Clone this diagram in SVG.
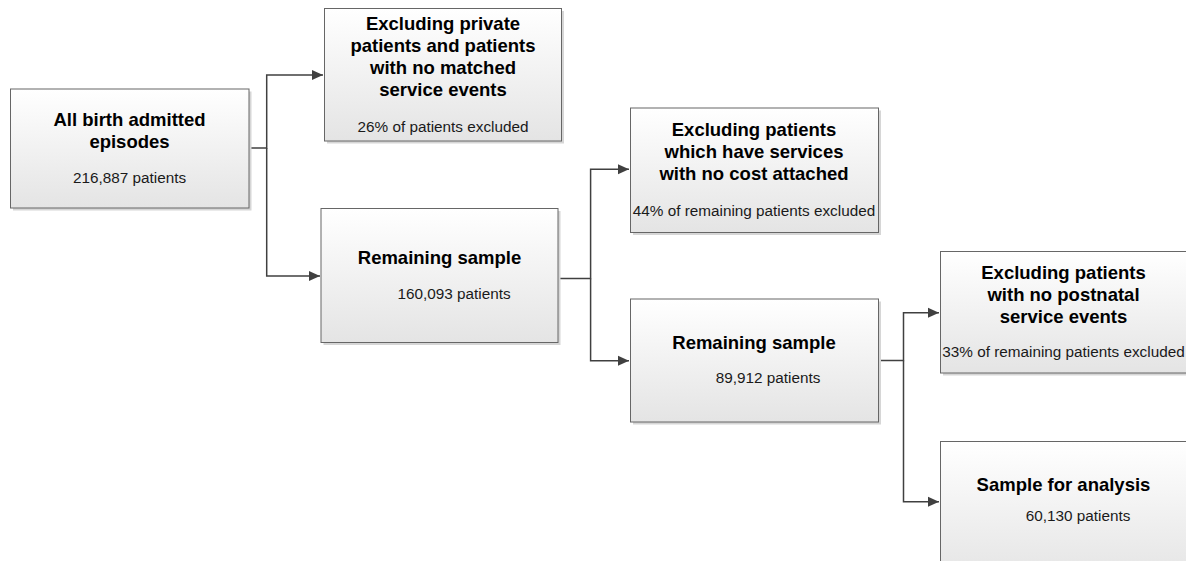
<svg xmlns="http://www.w3.org/2000/svg" width="1186" height="561" viewBox="0 0 1186 561">
<style>
.box{fill:url(#g);stroke:#666;stroke-width:1}
.sh{fill:#d6d6d6}
.t{font-family:"Liberation Sans",Arial,sans-serif;font-weight:bold;font-size:18.5px;fill:#000;text-anchor:middle}
.s{font-family:"Liberation Sans",Arial,sans-serif;font-size:15.3px;fill:#1a1a1a;text-anchor:middle}
.c{fill:none;stroke:#404040;stroke-width:1.5}
</style>
<defs>
<linearGradient id="g" x1="0" y1="0" x2="0" y2="1">
<stop offset="0" stop-color="#ffffff"/>
<stop offset="1" stop-color="#e4e4e4"/>
</linearGradient>
<marker id="a" markerUnits="userSpaceOnUse" markerWidth="12" markerHeight="12" viewBox="0 0 12 12" refX="11" refY="6" orient="auto">
<path d="M0,1 L11,6 L0,11 Z" fill="#404040"/>
</marker>
</defs>
<rect width="1186" height="561" fill="#fff"/>
<g id="connectors">
<path class="c" d="M249,148 H266.7 V75 H323" marker-end="url(#a)"/>
<path class="c" d="M266.7,148 V276 H320" marker-end="url(#a)"/>
<path class="c" d="M558,278.5 H590.6 V169.3 H629" marker-end="url(#a)"/>
<path class="c" d="M590.6,278.5 V360.7 H629" marker-end="url(#a)"/>
<path class="c" d="M878.6,360.5 H903.5 V312.7 H939" marker-end="url(#a)"/>
<path class="c" d="M903.5,360.5 V501.7 H939" marker-end="url(#a)"/>
</g>
<g id="n1">
<rect class="sh" x="13" y="91.5" width="238.5" height="119"/>
<rect class="box" x="10.5" y="89" width="238.5" height="119"/>
<text class="t" x="129.5" y="126">All birth admitted</text>
<text class="t" x="129.5" y="148">episodes</text>
<text class="s" x="129.5" y="183">216,887 patients</text>
</g>
<g id="n2">
<rect class="sh" x="327" y="11" width="237" height="132.5"/>
<rect class="box" x="324.5" y="8.5" width="237" height="132.5"/>
<text class="t" x="443" y="30">Excluding private</text>
<text class="t" x="443" y="52">patients and patients</text>
<text class="t" x="443" y="74">with no matched</text>
<text class="t" x="443" y="96">service events</text>
<text class="s" x="443" y="131.5">26% of patients excluded</text>
</g>
<g id="n3">
<rect class="sh" x="323.5" y="211" width="237" height="134"/>
<rect class="box" x="321" y="208.5" width="237" height="134"/>
<text class="t" x="439.5" y="264">Remaining sample</text>
<text class="s" x="454" y="299">160,093 patients</text>
</g>
<g id="n4">
<rect class="sh" x="633" y="110.5" width="248" height="124.5"/>
<rect class="box" x="630.5" y="108" width="248" height="124.5"/>
<text class="t" x="754" y="136">Excluding patients</text>
<text class="t" x="754" y="158">which have services</text>
<text class="t" x="754" y="180">with no cost attached</text>
<text class="s" x="754" y="216">44% of remaining patients excluded</text>
</g>
<g id="n5">
<rect class="sh" x="633" y="301.5" width="248" height="123"/>
<rect class="box" x="630.5" y="299" width="248" height="123"/>
<text class="t" x="754" y="349">Remaining sample</text>
<text class="s" x="768" y="383">89,912 patients</text>
</g>
<g id="n6">
<rect class="sh" x="943" y="254" width="260" height="121.5"/>
<rect class="box" x="940.5" y="251.5" width="260" height="121.5"/>
<text class="t" x="1063.5" y="278.5">Excluding patients</text>
<text class="t" x="1063.5" y="300.5">with no postnatal</text>
<text class="t" x="1063.5" y="322.5">service events</text>
<text class="s" x="1063.5" y="357">33% of remaining patients excluded</text>
</g>
<g id="n7">
<rect class="sh" x="943" y="444" width="260" height="140"/>
<rect class="box" x="940.5" y="441.5" width="260" height="140"/>
<text class="t" x="1063.5" y="491">Sample for analysis</text>
<text class="s" x="1078" y="521">60,130 patients</text>
</g>
</svg>
